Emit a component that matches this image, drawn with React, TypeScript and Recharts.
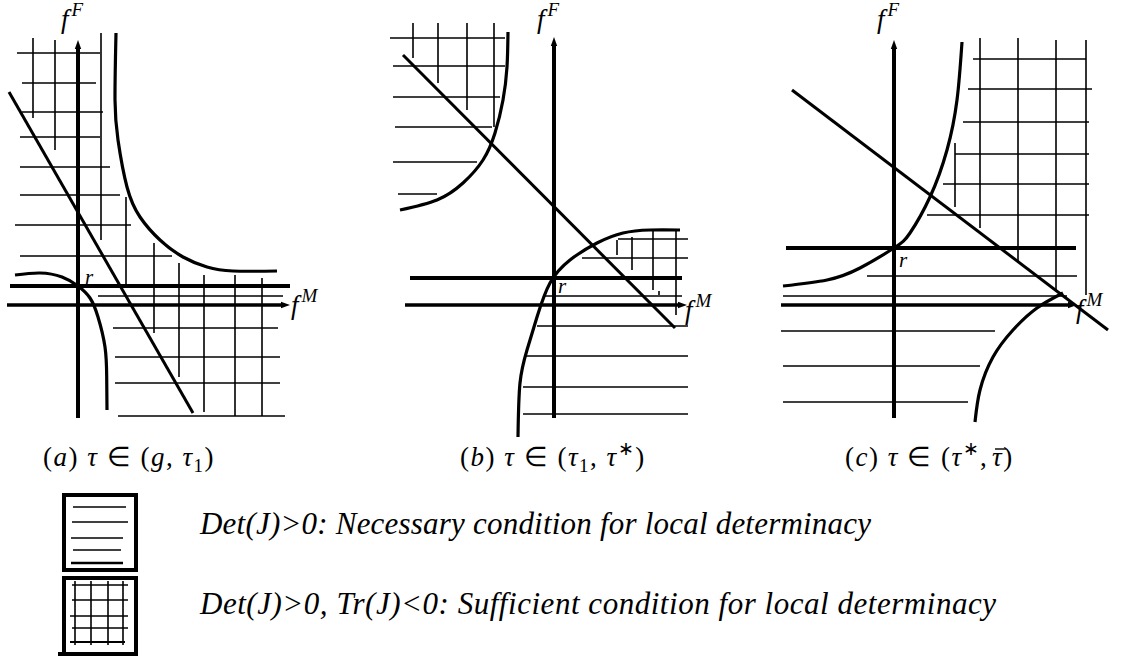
import React from 'react';
import { LineChart, Line, XAxis, YAxis, ReferenceLine } from 'recharts';

type Pt = { x: number; y: number };
type Seg = [number, number, number, number];

// units: (f^M, f^F) measured from the axes' crossing, y up

// (a) tau in (g, tau1)
const aAxisF: Seg = [0, -11.3, 0, 26.5];
const aAxisM: Seg = [-7.1, 0, 21.2, 0];
const aSteady: Seg = [-6.8, 1.9, 21.2, 1.9];
const aDiag: Seg = [-6.9, 21.3, 11.5, -10.8];
const aUpper: Pt[] = [
  { x: 3.8, y: 27.2 }, { x: 3.7, y: 20.5 }, { x: 4.0, y: 16.5 }, { x: 4.9, y: 11.8 },
  { x: 6.2, y: 8.8 }, { x: 8.2, y: 6.5 }, { x: 10.5, y: 4.8 }, { x: 12.9, y: 3.8 },
  { x: 15.5, y: 3.4 }, { x: 19.9, y: 3.4 },
];
const aLower: Pt[] = [
  { x: -6.3, y: 3.0 }, { x: -3.8, y: 3.2 }, { x: -1.6, y: 2.8 }, { x: 0, y: 1.9 },
  { x: 1.2, y: 0.7 }, { x: 2.0, y: -1.2 }, { x: 2.7, y: -4.2 }, { x: 2.87, y: -7.2 },
  { x: 2.9, y: -10.5 },
];
const aHatch: Seg[] = [
  [2.0, 0.9, 20.5, 0.9],
  [-6.1, 25.2, 2.2, 25.2], [-5.6, 22.2, 1.8, 22.2], [-5.6, 19.3, 2.5, 19.3], [-5.8, 16.8, 2.2, 16.8],
  [-5.8, 13.8, 3.2, 13.8], [-5.8, 11.0, 4.2, 11.0], [-6.3, 8.0, 5.3, 8.0], [-5.8, 4.9, 9.4, 4.9],
  [-4.5, 26.7, -4.5, 18.7], [-2.3, 26.5, -2.3, 15.5], [2.3, 27.2, 2.3, 6.5], [4.8, 10.8, 4.8, 1.8],
  [7.6, 6.2, 7.6, -2.8], [10.1, 4.2, 10.1, -7.2], [12.6, 3.0, 12.6, -10.7], [15.7, 3.0, 15.7, -11.1],
  [18.4, 2.7, 18.4, -11.1],
  [3.5, -2.3, 20.0, -2.3], [3.7, -5.2, 20.2, -5.2], [3.7, -7.8, 20.2, -7.8], [4.0, -11.1, 20.7, -11.1],
];

// (b) tau in (tau1, tau*)
const bAxisF: Seg = [0, -11.3, 0, 26.8];
const bAxisM: Seg = [-14.9, 0, 13.3, 0];
const bSteady: Seg = [-14.4, 2.7, 12.8, 2.7];
const bDiag: Seg = [-15.1, 25.0, 12.1, -2.3];
const bUpper: Pt[] = [
  { x: -4.6, y: 27.3 }, { x: -4.7, y: 23.8 }, { x: -5.1, y: 20.5 }, { x: -5.9, y: 17.2 },
  { x: -7.1, y: 14.5 }, { x: -9.1, y: 12.2 }, { x: -11.7, y: 10.5 }, { x: -15.4, y: 9.5 },
];
const bLower: Pt[] = [
  { x: -3.6, y: -13.2 }, { x: -3.4, y: -7.8 }, { x: -2.7, y: -4.5 }, { x: -1.7, y: -1.2 },
  { x: -0.4, y: 2.2 }, { x: 1.6, y: 4.5 }, { x: 4.3, y: 6.2 }, { x: 6.9, y: 7.2 },
  { x: 9.6, y: 7.5 }, { x: 12.6, y: 7.5 },
];
const bHatch: Seg[] = [
  [-0.9, 0.9, 12.8, 0.9],
  [-16.4, 26.7, -4.9, 26.7], [-16.1, 23.9, -4.9, 23.9], [-16.1, 20.8, -5.4, 20.8],
  [-15.9, 17.8, -6.2, 17.8], [-16.1, 14.3, -7.7, 14.3], [-15.6, 11.1, -11.7, 11.1],
  [-14.1, 28.2, -14.1, 24.7], [-11.6, 28.2, -11.6, 22.2], [-8.7, 28.2, -8.7, 19.5], [-6.0, 28.2, -6.0, 17.8],
  [6.4, 6.6, 13.4, 6.6], [2.8, 4.7, 13.4, 4.7],
  [6.3, 6.5, 6.3, 5.0], [7.8, 6.8, 7.8, 3.5], [9.9, 7.5, 9.9, 1.5], [12.2, 7.5, 12.2, -1.0],
  [10.5, 1.4, 10.5, 1.0],
  [-1.7, -2.1, 13.4, -2.1], [-2.9, -5.1, 13.4, -5.1], [-3.1, -8.2, 13.4, -8.2], [-3.1, -10.9, 13.4, -10.9],
];

// (c) tau in (tau*, tau-bar)
const cAxisF: Seg = [0, -11.3, 0, 26.5];
const cAxisM: Seg = [-11.3, 0, 18.3, 0];
const cSteady: Seg = [-10.8, 5.7, 18.2, 5.7];
const cDiag: Seg = [-10.2, 21.5, 21.4, -2.5];
const cUpper: Pt[] = [
  { x: -11.1, y: 1.9 }, { x: -6.7, y: 2.5 }, { x: -3.4, y: 3.7 }, { x: 0, y: 5.7 },
  { x: 1.6, y: 7.2 }, { x: 3.6, y: 10.8 }, { x: 5.3, y: 15.5 }, { x: 6.3, y: 20.5 },
  { x: 6.8, y: 26.3 },
];
const cLower: Pt[] = [
  { x: 8.1, y: -11.7 }, { x: 8.6, y: -8.5 }, { x: 9.9, y: -5.2 }, { x: 11.9, y: -2.5 },
  { x: 14.3, y: -0.3 }, { x: 16.9, y: 1.2 },
];
const cHatch: Seg[] = [
  [-2.7, 2.9, 18.3, 2.9], [-11.1, 0.9, 17.3, 0.9],
  [7.9, 24.6, 19.2, 24.6], [7.4, 21.6, 19.8, 21.6], [6.9, 18.3, 19.5, 18.3], [6.1, 15.1, 19.5, 15.1],
  [4.9, 12.1, 19.5, 12.1], [3.3, 9.0, 19.5, 9.0],
  [6.1, 16.2, 6.1, 9.8], [8.6, 26.7, 8.6, 7.7], [12.4, 26.7, 12.4, 4.3], [16.2, 26.5, 16.2, 1.5],
  [19.2, 26.5, 19.2, 1.0],
  [-11.3, -2.6, 10.1, -2.6], [-11.1, -6.1, 8.6, -6.1], [-11.1, -9.7, 7.4, -9.7],
];

const UNIT = 10; // px per unit
const PANEL_H = 440;
const SERIF = '"Liberation Serif"';
const it = { fontStyle: 'italic' as const };

interface PanelDef {
  left: number;
  width: number;
  originX: number;
  originY: number;
  axisF: Seg;
  axisM: Seg;
  steady: Seg;
  diag: Seg;
  curves: Pt[][];
  hatch: Seg[];
}

const panels: PanelDef[] = [
  { left: 0, width: 370, originX: 78, originY: 305, axisF: aAxisF, axisM: aAxisM, steady: aSteady, diag: aDiag, curves: [aUpper, aLower], hatch: aHatch },
  { left: 370, width: 370, originX: 184, originY: 305, axisF: bAxisF, axisM: bAxisM, steady: bSteady, diag: bDiag, curves: [bUpper, bLower], hatch: bHatch },
  { left: 760, width: 371, originX: 134, originY: 305, axisF: cAxisF, axisM: cAxisM, steady: cSteady, diag: cDiag, curves: [cUpper, cLower], hatch: cHatch },
];

const toSeg = (s: Seg) => [{ x: s[0], y: s[1] }, { x: s[2], y: s[3] }];

const ArrowLine = (p: any) => {
  const { x1, y1, x2, y2, stroke, strokeWidth } = p;
  const a = Math.atan2(y2 - y1, x2 - x1);
  const len = 9;
  const half = 3.2;
  const bx = x2 - len * Math.cos(a);
  const by = y2 - len * Math.sin(a);
  const pts = [
    [x2, y2],
    [bx - half * Math.sin(a), by + half * Math.cos(a)],
    [bx + half * Math.sin(a), by - half * Math.cos(a)],
  ].map((q) => q.join(',')).join(' ');
  return (
    <g>
      <line x1={x1} y1={y1} x2={bx} y2={by} stroke={stroke} strokeWidth={strokeWidth} />
      <polygon points={pts} fill={stroke} />
    </g>
  );
};

function Panel({ p }: { p: PanelDef }) {
  const xDomain = [-p.originX / UNIT, (p.width - p.originX) / UNIT];
  const yDomain = [(p.originY - PANEL_H) / UNIT, p.originY / UNIT];
  return (
    <div style={{ position: 'absolute', left: p.left, top: 0 }}>
      <LineChart width={p.width} height={PANEL_H} margin={{ top: 0, right: 0, bottom: 0, left: 0 }}>
        <XAxis type="number" dataKey="x" domain={xDomain} allowDataOverflow hide />
        <YAxis type="number" dataKey="y" domain={yDomain} allowDataOverflow hide />
        {p.hatch.map((s, i) => (
          <ReferenceLine key={'h' + i} segment={toSeg(s)} stroke="#000" strokeWidth={1.6} ifOverflow="visible" />
        ))}
        {p.curves.map((c, i) => (
          <Line
            key={'c' + i}
            data={c}
            dataKey="y"
            type="natural"
            stroke="#000"
            strokeWidth={3.2}
            dot={false}
            activeDot={false}
            isAnimationActive={false}
          />
        ))}
        <ReferenceLine segment={toSeg(p.diag)} stroke="#000" strokeWidth={3} ifOverflow="visible" />
        <ReferenceLine segment={toSeg(p.steady)} stroke="#000" strokeWidth={4} ifOverflow="visible" />
        <ReferenceLine segment={toSeg(p.axisM)} stroke="#000" strokeWidth={3.5} ifOverflow="visible" shape={ArrowLine} />
        <ReferenceLine segment={toSeg(p.axisF)} stroke="#000" strokeWidth={4} ifOverflow="visible" shape={ArrowLine} />
      </LineChart>
    </div>
  );
}

function AxisName({ x, y, sup }: { x: number; y: number; sup: string }) {
  return (
    <text x={x} y={y} style={{ fontFamily: SERIF, fontStyle: 'italic', fontSize: 27 }}>
      f<tspan style={{ fontSize: 19 }} dy={-12} dx={3}>{sup}</tspan>
    </text>
  );
}

function R({ x, y }: { x: number; y: number }) {
  return (
    <text x={x} y={y} style={{ fontFamily: SERIF, fontStyle: 'italic', fontSize: 21 }}>r</text>
  );
}

function Tau() {
  return <tspan style={it}>τ</tspan>;
}

const capStyle = { fontFamily: SERIF, fontSize: 27, letterSpacing: '1.5px' };
const legendStyle = { fontFamily: SERIF, fontStyle: 'italic' as const, fontSize: 31 };

export default function App() {
  return (
    <div style={{ position: 'absolute', left: 0, top: 0, width: 1131, height: 659, background: '#fff', overflow: 'hidden' }}>
      {panels.map((p, i) => <Panel key={i} p={p} />)}
      <svg width={1131} height={659} style={{ position: 'absolute', left: 0, top: 0, pointerEvents: 'none' }}>
        <AxisName x={61} y={28} sup="F" />
        <AxisName x={537} y={28} sup="F" />
        <AxisName x={877} y={28} sup="F" />
        <AxisName x={291} y={314} sup="M" />
        <AxisName x={685} y={319} sup="M" />
        <AxisName x={1076} y={318} sup="M" />
        <R x={85} y={284} />
        <R x={558} y={293} />
        <R x={899} y={267} />

        <text x={43} y={466} style={capStyle}>
          (<tspan style={it}>a</tspan>) <Tau /> ∈ (<tspan style={it}>g</tspan>, <Tau /><tspan style={{ fontSize: 19 }} dy={6}>1</tspan><tspan dy={-6}>)</tspan>
        </text>
        <text x={460} y={466} style={capStyle}>
          (<tspan style={it}>b</tspan>) <Tau /> ∈ (<Tau /><tspan style={{ fontSize: 19 }} dy={6}>1</tspan><tspan dy={-6}>, </tspan><Tau /><tspan style={{ fontSize: 19 }} dy={-11}>∗</tspan><tspan dy={11}>)</tspan>
        </text>
        <text x={845} y={466} style={capStyle}>
          (<tspan style={it}>c</tspan>) <Tau /> ∈ (<Tau /><tspan style={{ fontSize: 19 }} dy={-11}>∗</tspan><tspan dy={11}>,</tspan>
        </text>
        <text x={992} y={466} style={capStyle}>
          <Tau />)
        </text>
        <line x1={995} y1={449} x2={1006} y2={449} stroke="#000" strokeWidth={1.4} />

        {/* legend swatches */}
        <g stroke="#000" fill="none">
          <rect x={64} y={495} width={72} height={75} strokeWidth={4} />
          <line x1={73} y1={507} x2={126} y2={507} strokeWidth={1.6} />
          <line x1={72} y1={522} x2={128} y2={522} strokeWidth={1.6} />
          <line x1={71} y1={538} x2={123} y2={538} strokeWidth={1.6} />
          <line x1={73} y1={550} x2={121} y2={550} strokeWidth={1.6} />
          <line x1={71} y1={563} x2={123} y2={563} strokeWidth={2.4} />
          <rect x={64} y={578} width={72} height={76} strokeWidth={4} />
          <line x1={58} y1={654} x2={64} y2={654} strokeWidth={4} />
          <line x1={72} y1={585} x2={128} y2={585} strokeWidth={1.6} />
          <line x1={72} y1={600} x2={128} y2={600} strokeWidth={1.6} />
          <line x1={70} y1={616} x2={128} y2={616} strokeWidth={1.6} />
          <line x1={72} y1={628} x2={128} y2={628} strokeWidth={1.6} />
          <line x1={70} y1={642} x2={125} y2={642} strokeWidth={2.2} />
          <line x1={75} y1={581} x2={75} y2={645} strokeWidth={1.6} />
          <line x1={91} y1={581} x2={91} y2={645} strokeWidth={1.6} />
          <line x1={108} y1={581} x2={108} y2={645} strokeWidth={1.6} />
          <line x1={123} y1={581} x2={123} y2={645} strokeWidth={1.6} />
        </g>
        <text x={200} y={534} textLength={671} lengthAdjust="spacing" style={legendStyle}>
          Det(J)&gt;0: Necessary condition for local determinacy
        </text>
        <text x={200} y={614} textLength={796} lengthAdjust="spacing" style={legendStyle}>
          Det(J)&gt;0, Tr(J)&lt;0: Sufficient condition for local determinacy
        </text>
      </svg>
    </div>
  );
}
